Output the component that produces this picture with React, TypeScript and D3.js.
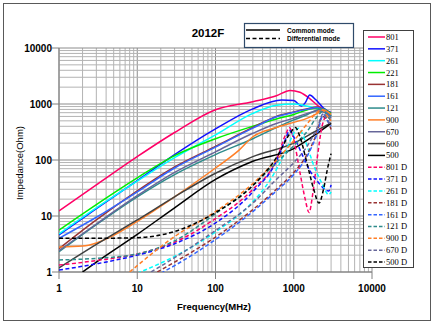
import React from "react";
import * as d3 from "d3";

type Pt = [number, number];

// ---- data (frequency MHz, impedance Ohm) ----
const s801: Pt[] = [[1,12.3],[3,36],[10,115],[30,310],[100,790],[300,1100],[600,1400],[900,1750],[1200,1620],[1600,1250],[2000,950],[2500,780],[3000,700]];
const s371: Pt[] = [[1,4.6],[3,13.5],[10,43],[30,125],[100,360],[300,820],[700,1180],[1000,1150],[1250,920],[1400,1050],[1600,1450],[1900,1200],[2400,850],[3000,700]];
const s261: Pt[] = [[1,4.8],[3,14],[10,42],[30,110],[100,280],[300,680],[600,950],[1000,1000],[1400,930],[2000,820],[2500,720],[3000,640]];
const s221: Pt[] = [[1,5.6],[3,16],[10,48],[30,120],[100,240],[300,400],[600,540],[1000,650],[1500,790],[2000,850],[2500,780],[3000,680]];
const s181: Pt[] = [[1,2.6],[3,8.5],[10,28],[30,75],[100,175],[300,380],[600,600],[1000,720],[1500,820],[2000,880],[2500,760],[3000,620]];
const s161: Pt[] = [[1,4.0],[3,9.5],[10,27],[30,72],[100,170],[300,370],[600,590],[1000,710],[1500,810],[2000,870],[2500,750],[3000,600]];
const s121: Pt[] = [[1,2.3],[3,7],[10,22],[30,55],[100,125],[300,240],[600,380],[1000,520],[1500,650],[2000,780],[2400,820],[3000,600]];
const s900: Pt[] = [[1,2.8],[2,2.9],[3,3.3],[5,4.5],[10,8],[30,22],[100,72],[200,150],[300,260],[600,380],[1000,470],[1500,560],[2000,680],[2400,780],[3000,650]];
const s670: Pt[] = [[1,2.4],[3,7.2],[10,23],[30,60],[100,140],[300,300],[600,450],[1000,560],[1500,680],[2000,760],[2500,700],[3000,560]];
const s600: Pt[] = [[1,1.18],[3,3.1],[10,8.5],[30,22],[100,58],[300,115],[1000,200],[2000,340],[3000,460]];
const s500: Pt[] = [[2,1.0],[3,1.5],[10,4.7],[30,14],[100,45],[300,95],[1000,160],[2000,300],[3000,450]];

const d801: Pt[] = [[1,1.33],[3,1.6],[10,2.1],[30,3.4],[100,9],[300,30],[600,100],[800,300],[880,380],[1000,230],[1200,60],[1400,20],[1570,11.5],[1750,25],[2000,110],[2300,400],[2600,600],[3000,500]];
const d371: Pt[] = [[1,1.08],[3,1.4],[10,2.0],[30,3.2],[100,7.5],[300,27],[600,95],[800,250],[880,340],[1000,260],[1300,120],[1600,65],[2000,42],[2500,30],[2800,28],[3000,36]];
const d261: Pt[] = [[10,0.95],[30,1.9],[100,5.2],[300,18],[500,44],[800,150],[1000,300],[1150,370],[1400,220],[1800,80],[2300,38],[2800,24],[3000,27]];
const d181: Pt[] = [[18,1.0],[30,1.5],[100,4.2],[300,13],[600,30],[1000,60],[1500,130],[2000,320],[2300,600],[2600,550],[3000,350]];
const d161: Pt[] = [[20,0.95],[30,1.3],[100,3.8],[300,12],[600,28],[1000,55],[1500,120],[2000,300],[2400,650],[2700,500],[3000,400]];
const d121: Pt[] = [[1,1.64],[3,1.75],[10,2.1],[30,3.6],[100,11],[300,35],[600,90],[1000,180],[1500,330],[2000,600],[2400,750],[2700,620],[3000,500]];
const d900: Pt[] = [[8,1.0],[10,1.3],[30,4.3],[100,12],[300,38],[600,100],[1000,220],[1500,450],[2000,720],[2300,800],[2700,600],[3000,500]];
const d670: Pt[] = [[15,1.0],[30,1.8],[100,5.5],[300,17],[600,45],[1000,90],[1500,180],[2000,380],[2400,680],[2700,520],[3000,420]];
const d500: Pt[] = [[1,4.0],[3,4.0],[10,4.1],[30,5.3],[100,11.5],[300,35],[600,110],[900,300],[1050,380],[1200,260],[1500,80],[1800,30],[2100,17],[2400,30],[2700,70],[3000,130]];

const solidNames = ["801","371","261","221","181","161","121","900","670","600","500"];
const solidData = [s801,s371,s261,s221,s181,s161,s121,s900,s670,s600,s500];
const solidColors = ["#ff0066","#1010ff","#00ffff","#00ee00","#993333","#3366ff","#2e8b8b","#ff7f27","#666699","#404040","#000000"];

const dashNames = ["801 D","371 D","261 D","181 D","161 D","121 D","900 D","670 D","500 D"];
const dashData = [d801,d371,d261,d181,d161,d121,d900,d670,d500];
const dashColors = ["#ff0066","#1010ff","#00ffff","#993333","#3366ff","#2e8b8b","#ff7f27","#666699","#000000"];

const xTickLabels = [1,10,100,1000,10000];
const yTickLabels = [1,10,100,1000,10000];

const SANS = "Arial, 'Liberation Sans', sans-serif";
const SERIF = "'Times New Roman', 'Liberation Serif', serif";

export default function App() {
  const L = 59, R = 372, T = 48, B = 272;
  const xs = d3.scaleLog().domain([1, 10000]).range([L, R]);
  const ys = d3.scaleLog().domain([1, 10000]).range([B, T]);
  const line = d3.line<Pt>().x(d => xs(d[0])).y(d => ys(d[1])).curve(d3.curveMonotoneX);

  const gridVals: { v: number; major: boolean }[] = [];
  [1, 10, 100, 1000].forEach(dec => {
    for (let k = 1; k <= 9; k++) gridVals.push({ v: dec * k, major: k === 1 });
  });
  gridVals.push({ v: 10000, major: true });

  const legendX = 363, legendY = 30, legendW = 50, legendH = 237;
  const items = [
    ...solidNames.map((n, i) => ({ n, c: solidColors[i], dash: false })),
    ...dashNames.map((n, i) => ({ n, c: dashColors[i], dash: true })),
  ];
  const itemStep = (262 - 37) / (items.length - 1);

  return (
    <div style={{ position: "absolute", left: 0, top: 0 }}>
      <svg width={434} height={324} style={{ display: "block", background: "#fff" }}>
        <defs>
          <clipPath id="plotclip">
            <rect x={L} y={T} width={R - L} height={B - T} />
          </clipPath>
        </defs>
        <rect x={3.5} y={3.5} width={427} height={317} fill="#fff" stroke="#595959" strokeWidth={1} />

        {/* grid */}
        {gridVals.map((g, i) => (
          <line key={"gx" + i} x1={xs(g.v)} x2={xs(g.v)} y1={T} y2={B}
            stroke={g.major ? "#8c8c8c" : "#b3b3b3"} strokeWidth={1} />
        ))}
        {gridVals.map((g, i) => (
          <line key={"gy" + i} x1={L} x2={R} y1={ys(g.v)} y2={ys(g.v)}
            stroke={g.major ? "#8c8c8c" : "#b3b3b3"} strokeWidth={1} />
        ))}
        {/* axes */}
        <line x1={L} x2={L} y1={T} y2={B} stroke="#808080" strokeWidth={1} />
        <line x1={L} x2={R} y1={B} y2={B} stroke="#808080" strokeWidth={1} />
        {yTickLabels.map(v => (
          <line key={"yt" + v} x1={L - 7} x2={L} y1={ys(v)} y2={ys(v)} stroke="#808080" />
        ))}
        {xTickLabels.map(v => (
          <line key={"xt" + v} x1={xs(v)} x2={xs(v)} y1={B} y2={B + 7} stroke="#808080" />
        ))}

        {/* series */}
        <g clipPath="url(#plotclip)" fill="none">
          {solidData.map((d, i) => (
            <path key={"s" + i} d={line(d) || ""} stroke={solidColors[i]} strokeWidth={1.5} />
          ))}
          {dashData.map((d, i) => (
            <path key={"d" + i} d={line(d) || ""} stroke={dashColors[i]} strokeWidth={1.5} strokeDasharray="4,2.5" />
          ))}
        </g>

        {/* tick labels */}
        {yTickLabels.map(v => (
          <text key={"yl" + v} x={52} y={ys(v) + 4} textAnchor="end" fontFamily={SANS}
            fontWeight="bold" fontSize={10} fill="#000">{v}</text>
        ))}
        {xTickLabels.map(v => (
          <text key={"xl" + v} x={xs(v)} y={292} textAnchor="middle" fontFamily={SANS}
            fontWeight="bold" fontSize={10} fill="#000">{v}</text>
        ))}
        <text x={214} y={310} textAnchor="middle" fontFamily={SANS} fontWeight="bold" fontSize={9.5}>Frequency(MHz)</text>
        <text transform="translate(23,163) rotate(-90)" textAnchor="middle" fontFamily={SANS} fontSize={9.5}>Impedance(Ohm)</text>

        {/* title */}
        <text x={208} y={37} textAnchor="middle" fontFamily={SANS} fontWeight="bold" fontSize={11.5}>2012F</text>

        {/* mode legend */}
        <rect x={244.5} y={23.5} width={109} height={24} fill="#fff" stroke="#2f4a6a" strokeWidth={1.2} />
        <line x1={246} x2={280} y1={30} y2={30} stroke="#000" strokeWidth={1.5} />
        <line x1={246} x2={280} y1={38.5} y2={38.5} stroke="#000" strokeWidth={1.5} strokeDasharray="4,2.5" />
        <text x={287} y={32.5} fontFamily={SANS} fontWeight="bold" fontSize={6.5}>Common mode</text>
        <text x={287} y={41} fontFamily={SANS} fontWeight="bold" fontSize={6.5}>Differential mode</text>

        {/* series legend */}
        <rect x={legendX + 0.5} y={legendY + 0.5} width={legendW} height={legendH} fill="#fff" stroke="#404040" strokeWidth={1} />
        {items.map((it, i) => {
          const y = 37 + i * itemStep;
          return (
            <g key={"lg" + i}>
              <line x1={368} x2={385} y1={y} y2={y} stroke={it.c} strokeWidth={1.5}
                strokeDasharray={it.dash ? "3.5,2" : undefined} />
              <text x={386} y={y + 3} fontFamily={SERIF} fontSize={8.5} fill="#000">{it.n}</text>
            </g>
          );
        })}
      </svg>
    </div>
  );
}
